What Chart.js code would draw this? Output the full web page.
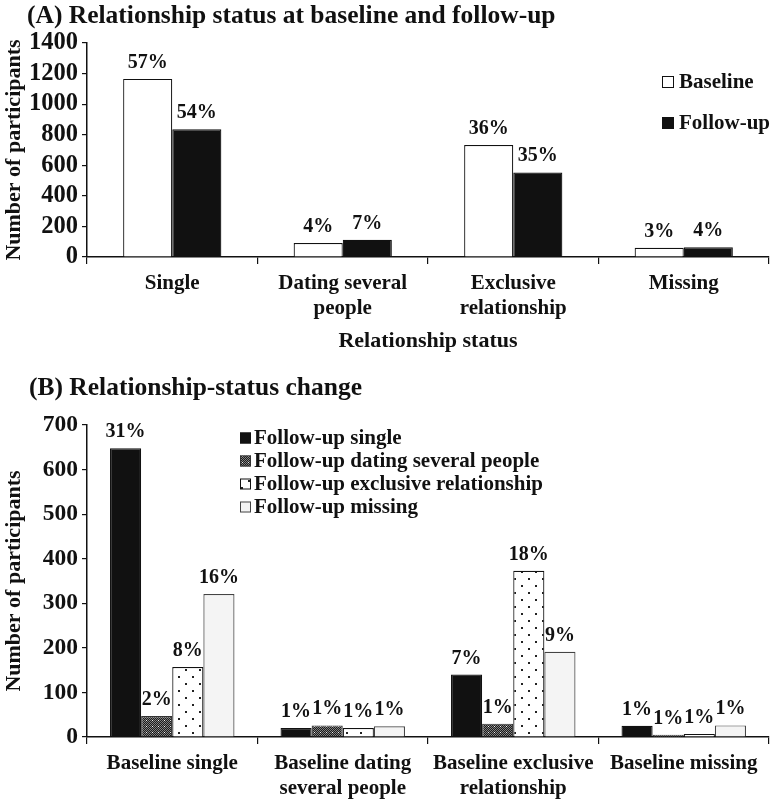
<!DOCTYPE html>
<html>
<head>
<meta charset="utf-8">
<script src="https://cdn.jsdelivr.net/npm/chart.js@4.4.1/dist/chart.umd.min.js"></script>
<style>
body { margin: 0; background: #fff; width: 771px; height: 799px; overflow: hidden; position: relative; font-family: "Liberation Serif", serif; }
.ttl { position: absolute; font-weight: bold; font-size: 25.5px; line-height: 28px; color: #111; white-space: nowrap; }
#wrapA { position: absolute; left: 0; top: 0; width: 771px; height: 358px; }
#wrapB { position: absolute; left: 0; top: 358px; width: 771px; height: 441px; }
</style>
</head>
<body>
<div id="wrapA"><canvas id="chartA"></canvas></div>
<div id="wrapB"><canvas id="chartB"></canvas></div>
<div class="ttl" style="left:27px; top:1px;">(A) Relationship status at baseline and follow-up</div>
<div class="ttl" style="left:29px; top:373px;">(B) Relationship-status change</div>

<script>
// ---- data: panel A ----
const statusLabels = ["Single", ["Dating several", "people"], ["Exclusive", "relationship"], "Missing"];
const baselineCounts = [1165, 92, 732, 60];
const followupCounts = [835, 113, 553, 63];
const baselinePct = ["57%", "4%", "36%", "3%"];
const followupPct = ["54%", "7%", "35%", "4%"];
const yTicksA = { max: 1400, step: 200 };

// ---- data: panel B ----
const changeLabels = ["Baseline single", ["Baseline dating", "several people"], ["Baseline exclusive", "relationship"], "Baseline missing"];
const fuSingle = [648, 20, 140, 25];
const fuDating = [47, 26, 30, 5];
const fuExclusive = [157, 20, 373, 7];
const fuMissing = [321, 24, 191, 26];
const fuSinglePct = ["31%", "1%", "7%", "1%"];
const fuDatingPct = ["2%", "1%", "1%", "1%"];
const fuExclusivePct = ["8%", "1%", "18%", "1%"];
const fuMissingPct = ["16%", "1%", "9%", "1%"];
const yTicksB = { max: 700, step: 100 };

const FONT = '"Liberation Serif", "Times New Roman", serif';
const INK = '#111';

// patterns for the B bars
function makePattern(size, draw) {
    let c = document.createElement('canvas');
    c.width = size; c.height = size;
    let g = c.getContext('2d');
    draw(g);
    return g.createPattern(c, 'repeat');
}
const checkerFill = makePattern(6, g => {
    g.fillStyle = '#1c1c1c'; g.fillRect(0, 0, 6, 6);
    g.fillStyle = '#808080';
    for (let x = 0; x < 6; x++) for (let y = 0; y < 6; y++) if ((x + y) % 2 == 0) g.fillRect(x, y, 1, 1);
    g.fillStyle = '#eee';
    g.fillRect(2, 2, 1, 1);
});
const dotFill = makePattern(14, g => {
    g.fillStyle = '#fff'; g.fillRect(0, 0, 14, 14);
    g.fillStyle = '#222';
    g.fillRect(3, 3, 2, 2);
    g.fillRect(10, 10, 2, 2);
});

// percentage labels above each bar
const pctLabels = {
    id: 'pctLabels',
    afterDatasetsDraw(chart, args, opts) {
        const ctx = chart.ctx;
        ctx.save();
        ctx.font = opts.font;
        ctx.fillStyle = INK;
        ctx.textAlign = 'center';
        ctx.textBaseline = 'alphabetic';
        chart.data.datasets.forEach((ds, d) => {
            chart.getDatasetMeta(d).data.forEach((bar, i) => {
                ctx.fillText(ds.pct[i], bar.x, bar.y - opts.gap);
            });
        });
        ctx.restore();
    }
};

// small square legend drawn inside the plot
const boxLegend = {
    id: 'boxLegend',
    afterDraw(chart, args, o) {
        const ctx = chart.ctx;
        ctx.save();
        ctx.font = o.font;
        ctx.textBaseline = 'middle';
        ctx.textAlign = 'left';
        chart.data.datasets.forEach((ds, i) => {
            let y = o.y + i * o.gap;
            ctx.fillStyle = ds.backgroundColor;
            ctx.fillRect(o.x, y - o.size / 2, o.size, o.size);
            ctx.strokeStyle = ds.borderColor;
            ctx.lineWidth = 1;
            ctx.strokeRect(o.x + 0.5, y - o.size / 2 + 0.5, o.size - 1, o.size - 1);
            ctx.fillStyle = INK;
            ctx.fillText(ds.label, o.x + o.size + o.space, y + 1);
        });
        ctx.restore();
    }
};

function axisFont(size, lh) {
    return { family: FONT, size: size, weight: 'bold', lineHeight: lh || 1.2 };
}

// ---- chart A ----
new Chart(document.getElementById('chartA'), {
    type: 'bar',
    data: {
        labels: statusLabels,
        datasets: [
            { label: 'Baseline', data: baselineCounts, pct: baselinePct, backgroundColor: '#fff', borderColor: INK, borderWidth: 1.2, categoryPercentage: 0.576, barPercentage: 1 },
            { label: 'Follow-up', data: followupCounts, pct: followupPct, backgroundColor: INK, borderColor: INK, borderWidth: 1.2, categoryPercentage: 0.576, barPercentage: 1 }
        ]
    },
    options: {
        responsive: true,
        maintainAspectRatio: false,
        animation: false,
        layout: { padding: { top: 43, right: 2, left: 0, bottom: 0 } },
        plugins: {
            legend: { display: false },
            tooltip: { enabled: false },
            pctLabels: { font: 'bold 20px ' + FONT, gap: 11 },
            boxLegend: { x: 662, y: 82, gap: 41, size: 12, space: 5, font: 'bold 21px ' + FONT }
        },
        scales: {
            x: {
                grid: { offset: true, drawOnChartArea: false, tickLength: 7, color: INK, lineWidth: 1.2 },
                border: { color: INK, width: 1.5 },
                ticks: { color: INK, padding: 8, font: axisFont(21, 1.15), maxRotation: 0, autoSkip: false },
                title: { display: true, text: 'Relationship status', color: INK, font: axisFont(22), padding: { top: 0, bottom: 3 } },
                afterFit(s) { s.height = 101; }
            },
            y: {
                min: 0, max: yTicksA.max,
                grid: { drawOnChartArea: false, tickLength: 5, color: INK, lineWidth: 1.2 },
                border: { color: INK, width: 1.5 },
                ticks: { stepSize: yTicksA.step, autoSkip: false, color: INK, padding: 4, font: axisFont(24.5, 1), callback: v => String(v) },
                title: { display: true, text: 'Number of participants', color: INK, font: axisFont(22), padding: { top: 1, bottom: 0 } },
                afterFit(s) { s.width = 87; }
            }
        }
    },
    plugins: [pctLabels, boxLegend]
});

// ---- chart B ----
const bSet = { borderWidth: 1.2, categoryPercentage: 0.73, barPercentage: 1 };
new Chart(document.getElementById('chartB'), {
    type: 'bar',
    data: {
        labels: changeLabels,
        datasets: [
            Object.assign({ label: 'Follow-up single', data: fuSingle, pct: fuSinglePct, backgroundColor: INK, borderColor: INK }, bSet),
            Object.assign({ label: 'Follow-up dating several people', data: fuDating, pct: fuDatingPct, backgroundColor: checkerFill, borderColor: '#333' }, bSet),
            Object.assign({ label: 'Follow-up exclusive relationship', data: fuExclusive, pct: fuExclusivePct, backgroundColor: dotFill, borderColor: INK }, bSet),
            Object.assign({ label: 'Follow-up missing', data: fuMissing, pct: fuMissingPct, backgroundColor: '#f4f4f4', borderColor: '#444' }, bSet)
        ]
    },
    options: {
        responsive: true,
        maintainAspectRatio: false,
        animation: false,
        layout: { padding: { top: 67, right: 2, left: 0, bottom: 0 } },
        plugins: {
            legend: { display: false },
            tooltip: { enabled: false },
            pctLabels: { font: 'bold 20px ' + FONT, gap: 11 },
            boxLegend: { x: 240, y: 80, gap: 23, size: 11, space: 3, font: 'bold 21px ' + FONT }
        },
        scales: {
            x: {
                grid: { offset: true, drawOnChartArea: false, tickLength: 7, color: INK, lineWidth: 1.2 },
                border: { color: INK, width: 1.5 },
                ticks: { color: INK, padding: 7, font: axisFont(21, 1.2), maxRotation: 0, autoSkip: false },
                afterFit(s) { s.height = 62; }
            },
            y: {
                min: 0, max: yTicksB.max,
                grid: { drawOnChartArea: false, tickLength: 5, color: INK, lineWidth: 1.2 },
                border: { color: INK, width: 1.5 },
                ticks: { stepSize: yTicksB.step, autoSkip: false, color: INK, padding: 4, font: axisFont(23.5, 1), callback: v => String(v) },
                title: { display: true, text: 'Number of participants', color: INK, font: axisFont(22), padding: { top: 1, bottom: 0 } },
                afterFit(s) { s.width = 87; }
            }
        }
    },
    plugins: [pctLabels, boxLegend]
});
</script>
</body>
</html>
